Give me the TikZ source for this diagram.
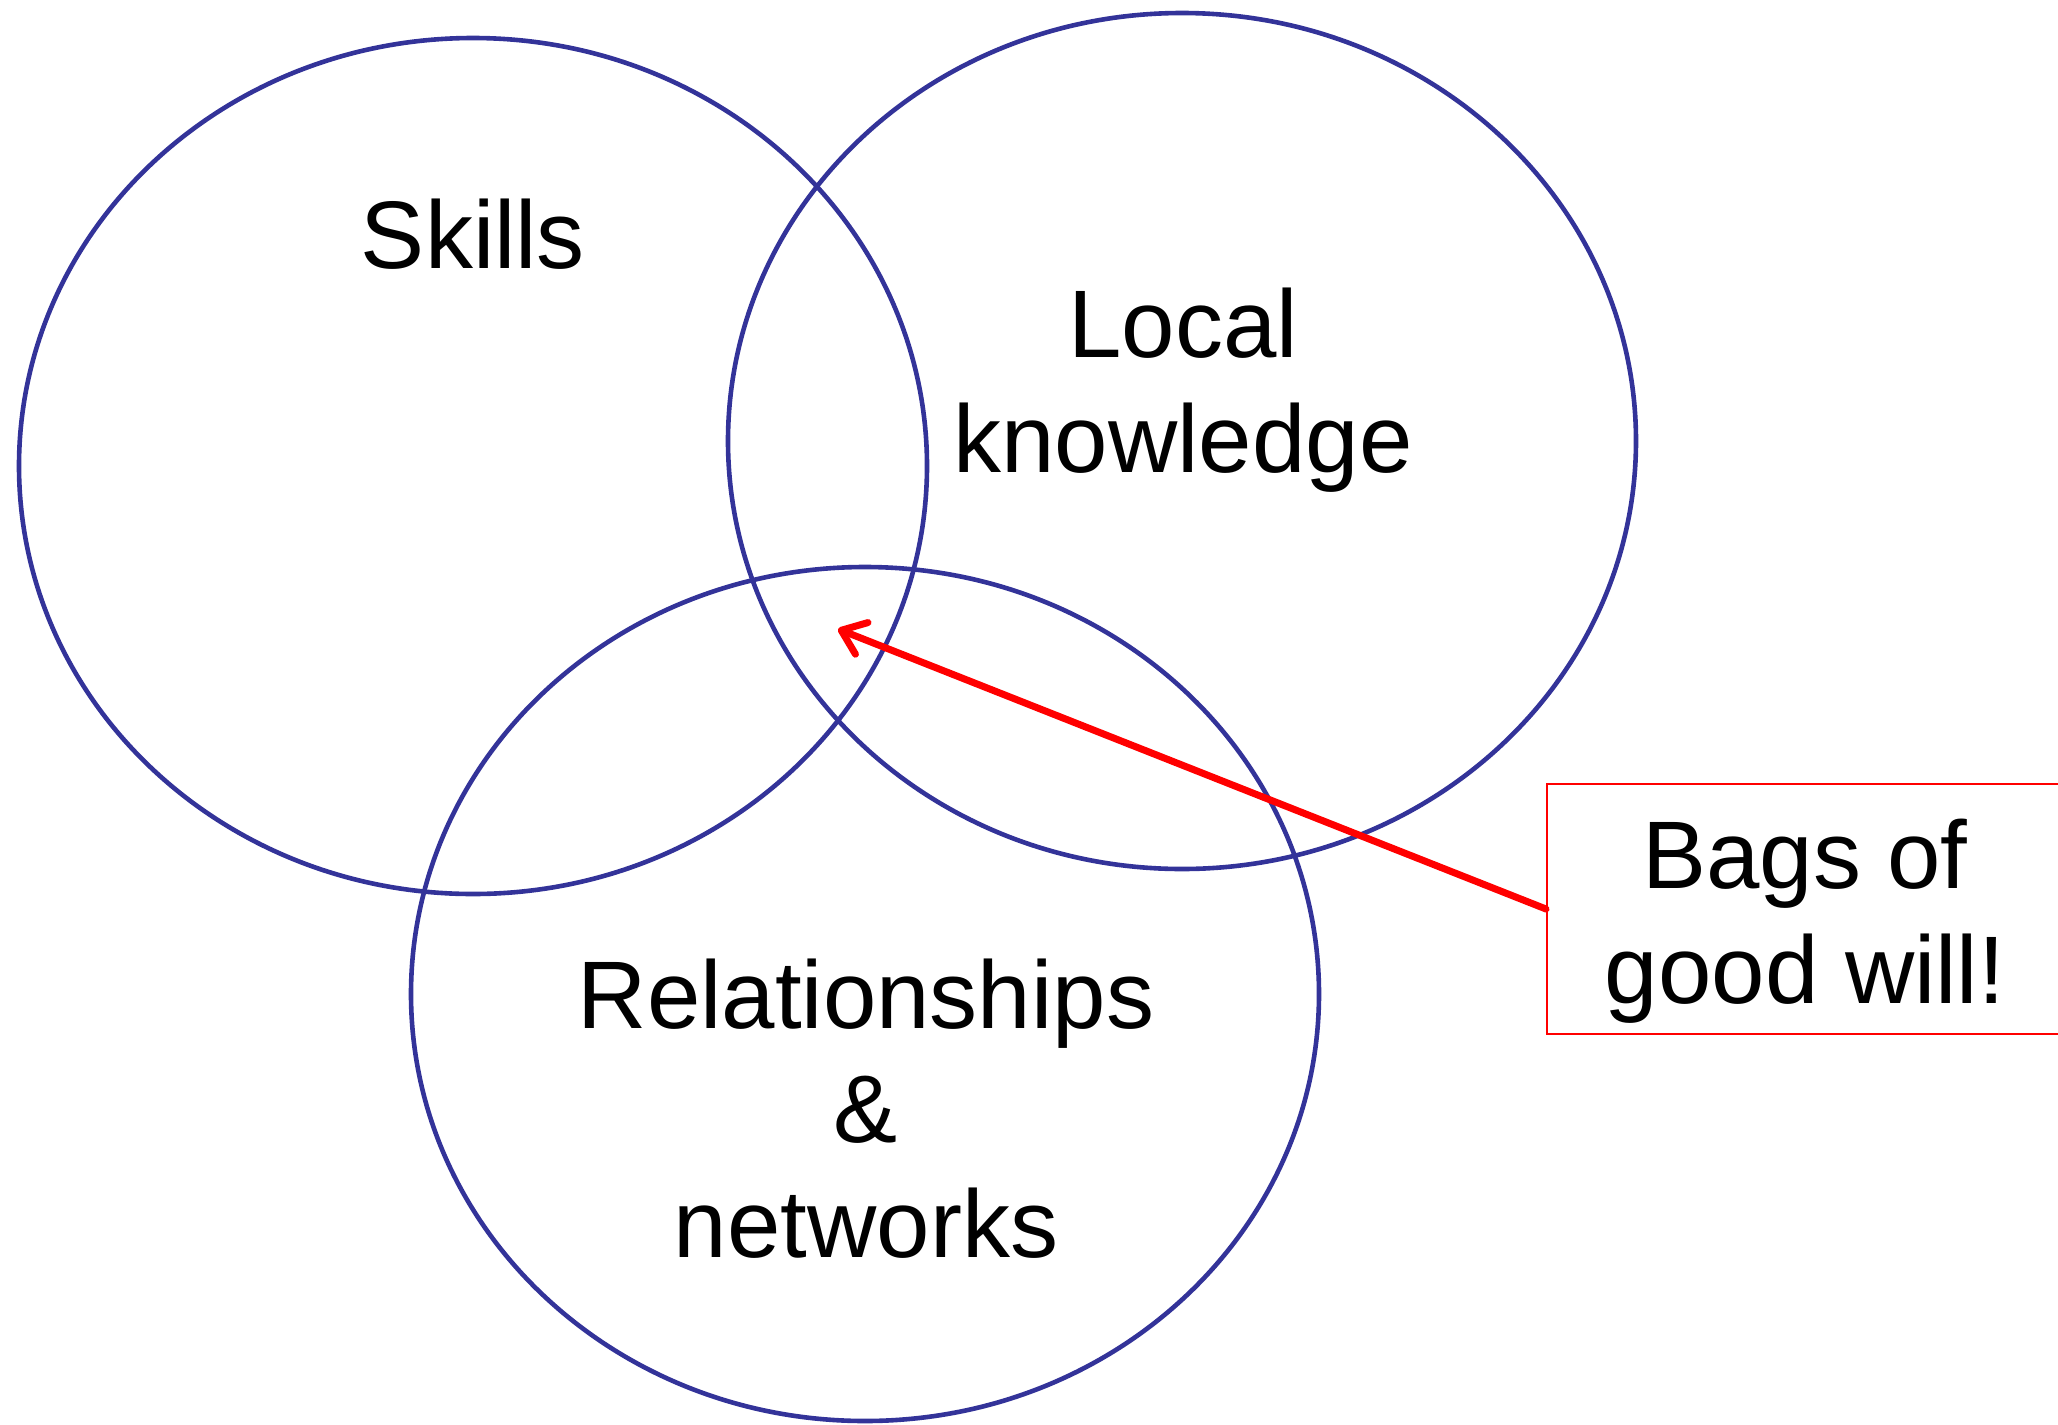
\documentclass[tikz,border=0pt]{standalone}
\usepackage{fontspec}
\setmainfont{Liberation Sans}
\usetikzlibrary{arrows.meta}
\definecolor{vennblue}{RGB}{51,51,153}
\tikzset{
  venn/.style={draw=vennblue, line width=2.3pt},
  lbl/.style={anchor=base, inner sep=0pt, font=\fontsize{48pt}{57.5pt}\selectfont},
  callout/.style={draw=red, line width=1pt, inner sep=0pt, minimum width=262pt, minimum height=125pt},
  pointer/.style={draw=red, line width=3.5pt, line cap=round, line join=round,
    -{Straight Barb[length=11pt,width=17pt,line cap=round,line join=round]}}
}
\begin{document}
\begin{tikzpicture}[x=0.5pt,y=-0.5pt]
\useasboundingbox (0,0) rectangle (2058,1425);
\fill[white] (0,0) rectangle (2058,1425);
\begin{scope}
\clip (0,0) rectangle (2058,1425);
% ellipses
\draw[venn] (473,466) ellipse [x radius=454, y radius=428];
\draw[venn] (1182,441) ellipse [x radius=454, y radius=428];
\draw[venn] (865,994) ellipse [x radius=454, y radius=427];
% labels
\node[lbl] (skills) at (473,268) {Skills};
\node[lbl] (localA) at (1183,357) {Local};
\node[lbl] (localB) at (1183,472) {knowledge};
\node[lbl] (relA) at (866,1028) {Relationships};
\node[lbl] (relB) at (866,1142) {\&};
\node[lbl] (relC) at (866,1257) {networks};
% callout box
\node[callout] (box) at (1809,909) {};
\node[lbl] (bagsA) at (1805,888) {Bags of};
\node[lbl] (bagsB) at (1805,1003) {good will!};
% arrow
\coordinate (tip) at (838,629);
\draw[pointer] (box.west) -- (tip);
\end{scope}
\end{tikzpicture}
\end{document}
